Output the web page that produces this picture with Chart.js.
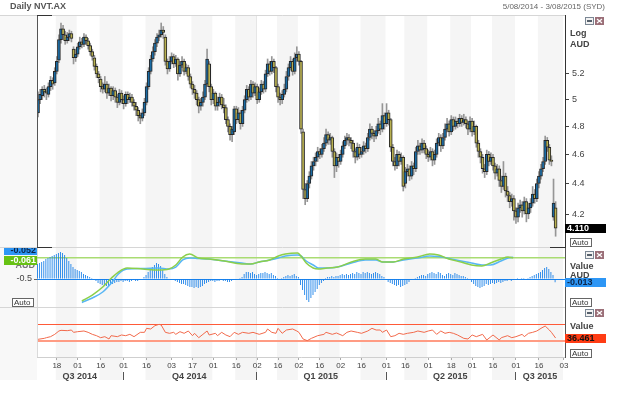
<!DOCTYPE html>
<html>
<head>
<meta charset="utf-8">
<title>Daily NVT.AX</title>
<script src="https://cdn.jsdelivr.net/npm/chart.js@4.4.1/dist/chart.umd.min.js"></script>
<style>
  body { margin: 0; background: #fff; }
  #wrap { position: relative; width: 630px; height: 397px; overflow: hidden; background: #fff; }
  #wrap canvas { position: absolute; left: 0; }
</style>
</head>
<body>
<div id="wrap">
  <canvas id="pricePane" width="630" height="248" style="top:0"></canvas>
  <canvas id="macdPane" width="630" height="60" style="top:248px"></canvas>
  <canvas id="rsiPane" width="630" height="89" style="top:308px"></canvas>
</div>
<script>
var FONT = '"Liberation Sans", Arial, sans-serif';
Chart.defaults.font.family = FONT;

// ---- data ----
var holidays = ['2014-12-25', '2014-12-26', '2015-01-01', '2015-01-26', '2015-04-03', '2015-04-06', '2015-06-08'];
var tickDates = ['2014-08-18', '2014-09-01', '2014-09-16', '2014-10-01', '2014-10-16', '2014-11-03', '2014-11-17', '2014-12-01',
  '2014-12-16', '2015-01-02', '2015-01-16', '2015-02-02', '2015-02-16', '2015-03-02', '2015-03-16', '2015-04-01',
  '2015-04-16', '2015-05-01', '2015-05-18', '2015-06-01', '2015-06-16', '2015-07-01', '2015-07-16', '2015-08-03'];
var quarterNames = ['Q3 2014', 'Q4 2014', 'Q1 2015', 'Q2 2015', 'Q3 2015'];
var quarterStarts = ['2014-08-05', '2014-10-01', '2015-01-02', '2015-04-01', '2015-07-01'];
var priceTicks = [5.2, 5, 4.8, 4.6, 4.4, 4.2];

var openPx = [4.90,5.00,5.03,5.08,5.06,5.04,5.10,5.15,5.13,5.22,
  5.31,5.48,5.57,5.52,5.47,5.50,5.53,5.40,5.33,5.36,
  5.42,5.46,5.44,5.50,5.47,5.43,5.38,5.33,5.26,5.20,
  5.16,5.10,5.08,5.12,5.05,5.09,5.03,5.07,5.02,4.98,
  5.05,5.00,4.97,5.04,5.00,5.02,4.98,4.95,4.92,4.88,
  4.86,4.90,4.98,5.10,5.22,5.32,5.38,5.45,5.50,5.52,
  5.56,5.50,5.30,5.24,5.30,5.34,5.28,5.32,5.20,5.27,
  5.30,5.22,5.25,5.18,5.12,5.08,5.05,5.00,4.95,4.98,
  5.02,5.12,5.28,5.10,5.00,5.05,4.95,4.98,5.02,4.96,
  4.94,4.85,4.80,4.74,4.76,4.93,4.85,4.90,4.82,4.92,
  5.00,5.08,5.02,5.12,5.05,5.10,5.00,5.06,5.12,5.08,
  5.20,5.28,5.22,5.30,5.25,5.10,5.02,5.00,5.04,5.08,
  5.18,5.25,5.30,5.22,5.33,5.36,5.30,4.76,4.36,4.30,
  4.40,4.45,4.52,4.55,4.58,4.62,4.60,4.64,4.68,4.74,
  4.70,4.72,4.62,4.52,4.58,4.55,4.60,4.66,4.70,4.72,
  4.70,4.68,4.62,4.58,4.65,4.60,4.62,4.66,4.64,4.72,
  4.78,4.75,4.73,4.77,4.82,4.78,4.88,4.82,4.90,4.85,
  4.65,4.55,4.52,4.60,4.55,4.58,4.40,4.48,4.50,4.45,
  4.52,4.50,4.62,4.66,4.63,4.68,4.64,4.60,4.58,4.62,
  4.56,4.60,4.68,4.72,4.66,4.72,4.78,4.82,4.76,4.85,
  4.80,4.84,4.82,4.86,4.83,4.85,4.82,4.78,4.84,4.76,
  4.80,4.68,4.62,4.58,4.50,4.48,4.60,4.55,4.58,4.52,
  4.47,4.50,4.42,4.38,4.45,4.35,4.32,4.28,4.30,4.22,
  4.18,4.24,4.26,4.22,4.28,4.20,4.24,4.27,4.33,4.30,
  4.40,4.45,4.50,4.55,4.70,4.65,4.56,4.18,4.24];
var highPx = [5.06,5.08,5.10,5.11,5.09,5.13,5.18,5.17,5.25,5.34,
  5.52,5.62,5.60,5.55,5.54,5.56,5.55,5.42,5.40,5.45,
  5.50,5.49,5.53,5.52,5.49,5.45,5.40,5.35,5.28,5.22,
  5.18,5.13,5.18,5.14,5.12,5.10,5.10,5.09,5.04,5.08,
  5.07,5.03,5.06,5.06,5.05,5.04,5.00,4.98,4.94,4.90,
  4.93,5.01,5.13,5.25,5.35,5.42,5.48,5.53,5.56,5.62,
  5.59,5.52,5.32,5.34,5.37,5.36,5.35,5.33,5.30,5.34,
  5.32,5.28,5.27,5.20,5.14,5.11,5.07,5.02,5.01,5.06,
  5.15,5.40,5.30,5.12,5.08,5.06,5.02,5.05,5.04,5.01,
  4.96,4.87,4.82,4.80,4.95,4.95,4.94,4.92,4.95,5.03,
  5.11,5.10,5.15,5.14,5.13,5.12,5.09,5.15,5.14,5.23,
  5.32,5.30,5.34,5.32,5.26,5.12,5.05,5.07,5.12,5.22,
  5.28,5.34,5.32,5.37,5.42,5.38,5.31,4.78,4.40,4.42,
  4.48,4.55,4.58,4.61,4.65,4.64,4.67,4.72,4.78,4.76,
  4.75,4.73,4.64,4.61,4.60,4.63,4.69,4.73,4.75,4.74,
  4.72,4.70,4.64,4.68,4.67,4.65,4.69,4.68,4.75,4.82,
  4.80,4.77,4.80,4.86,4.84,4.97,4.90,4.97,4.92,4.86,
  4.67,4.58,4.63,4.62,4.61,4.59,4.51,4.53,4.52,4.55,
  4.54,4.65,4.70,4.68,4.71,4.70,4.66,4.63,4.65,4.64,
  4.63,4.71,4.75,4.74,4.75,4.82,4.86,4.84,4.88,4.87,
  4.87,4.86,4.89,4.88,4.89,4.87,4.84,4.87,4.86,4.84,
  4.81,4.70,4.64,4.60,4.53,4.63,4.62,4.61,4.60,4.54,
  4.53,4.52,4.45,4.55,4.47,4.38,4.34,4.33,4.32,4.24,
  4.27,4.29,4.28,4.31,4.30,4.27,4.30,4.38,4.36,4.43,
  4.48,4.53,4.58,4.73,4.72,4.67,4.59,4.43,4.28];
var lowPx = [4.87,4.97,5.00,5.02,5.00,5.02,5.07,5.08,5.11,5.20,
  5.29,5.45,5.48,5.44,5.45,5.47,5.46,5.28,5.30,5.34,
  5.40,5.41,5.42,5.44,5.40,5.35,5.31,5.23,5.17,5.13,
  5.06,5.05,5.06,5.01,5.03,4.99,5.00,4.98,4.94,4.96,
  4.97,4.93,4.95,4.97,4.98,4.95,4.92,4.88,4.84,4.82,
  4.84,4.88,4.96,5.08,5.20,5.30,5.35,5.42,5.47,5.50,
  5.49,5.27,5.20,5.22,5.28,5.25,5.26,5.15,5.18,5.25,
  5.19,5.20,5.15,5.09,5.04,5.01,4.96,4.90,4.92,4.95,
  5.00,5.10,5.06,4.96,4.97,4.92,4.92,4.95,4.93,4.90,
  4.82,4.76,4.70,4.69,4.74,4.82,4.83,4.78,4.80,4.90,
  4.98,4.99,5.00,5.02,5.03,4.97,4.98,5.04,5.05,5.06,
  5.18,5.19,5.20,5.21,5.06,4.98,4.96,4.97,5.02,5.06,
  5.15,5.23,5.19,5.20,5.30,5.27,4.75,4.30,4.26,4.28,
  4.37,4.43,4.49,4.52,4.55,4.57,4.58,4.62,4.66,4.67,
  4.67,4.58,4.44,4.48,4.51,4.53,4.58,4.64,4.67,4.66,
  4.64,4.58,4.54,4.56,4.57,4.58,4.60,4.61,4.62,4.70,
  4.71,4.69,4.71,4.75,4.74,4.76,4.78,4.80,4.81,4.62,
  4.52,4.49,4.50,4.52,4.53,4.35,4.37,4.45,4.42,4.43,
  4.46,4.48,4.60,4.60,4.61,4.61,4.57,4.55,4.56,4.52,
  4.53,4.58,4.66,4.62,4.64,4.70,4.76,4.73,4.74,4.77,
  4.78,4.79,4.80,4.80,4.81,4.79,4.74,4.76,4.73,4.74,
  4.65,4.58,4.54,4.47,4.44,4.46,4.52,4.53,4.49,4.43,
  4.45,4.38,4.34,4.36,4.31,4.28,4.24,4.25,4.16,4.14,
  4.15,4.21,4.18,4.20,4.15,4.17,4.21,4.25,4.27,4.28,
  4.37,4.43,4.48,4.53,4.62,4.53,4.52,4.16,4.06];
var closePx = [5.00,5.04,5.08,5.06,5.05,5.10,5.15,5.12,5.22,5.30,
  5.48,5.57,5.52,5.47,5.50,5.53,5.49,5.33,5.36,5.42,
  5.46,5.44,5.50,5.47,5.43,5.38,5.34,5.26,5.20,5.17,
  5.10,5.08,5.12,5.05,5.09,5.03,5.07,5.02,4.98,5.05,
  5.00,4.97,5.04,5.00,5.02,4.98,4.95,4.92,4.88,4.86,
  4.90,4.98,5.10,5.22,5.32,5.38,5.45,5.50,5.52,5.56,
  5.54,5.30,5.24,5.30,5.34,5.28,5.32,5.20,5.27,5.30,
  5.22,5.25,5.18,5.12,5.08,5.05,5.00,4.95,4.98,5.02,
  5.12,5.32,5.10,5.00,5.05,4.95,4.98,5.02,4.96,4.94,
  4.85,4.80,4.74,4.78,4.93,4.85,4.90,4.82,4.92,5.00,
  5.08,5.02,5.12,5.05,5.10,5.00,5.06,5.12,5.08,5.20,
  5.28,5.22,5.30,5.25,5.10,5.02,5.00,5.04,5.08,5.18,
  5.25,5.30,5.22,5.33,5.36,5.30,4.78,4.36,4.30,4.40,
  4.45,4.52,4.55,4.58,4.62,4.60,4.64,4.68,4.74,4.70,
  4.72,4.62,4.52,4.58,4.55,4.60,4.66,4.70,4.72,4.70,
  4.68,4.62,4.58,4.65,4.60,4.62,4.66,4.64,4.72,4.78,
  4.75,4.73,4.77,4.82,4.78,4.88,4.82,4.90,4.85,4.65,
  4.55,4.52,4.60,4.55,4.58,4.38,4.48,4.50,4.45,4.52,
  4.50,4.62,4.66,4.63,4.68,4.64,4.60,4.58,4.62,4.56,
  4.60,4.68,4.72,4.66,4.72,4.78,4.82,4.76,4.85,4.80,
  4.84,4.82,4.86,4.83,4.85,4.82,4.78,4.84,4.76,4.80,
  4.68,4.62,4.58,4.50,4.48,4.60,4.55,4.58,4.52,4.47,
  4.50,4.42,4.38,4.45,4.35,4.32,4.28,4.30,4.22,4.18,
  4.24,4.26,4.22,4.28,4.20,4.24,4.27,4.33,4.30,4.40,
  4.45,4.50,4.55,4.70,4.65,4.56,4.55,4.27,4.11];

var macdHist = [0.060,0.064,0.068,0.072,0.080,0.084,0.088,0.092,0.096,0.100,0.104,0.108,
  0.104,0.096,0.084,0.072,0.060,0.048,
  0.040,0.036,0.032,0.028,0.020,0.016,0.012,0.008,
  0.004,-0.004,-0.008,-0.016,-0.020,-0.024,-0.028,-0.028,-0.028,-0.024,-0.020,-0.016,-0.012,
  -0.012,-0.008,-0.012,-0.008,-0.008,-0.012,-0.008,-0.004,-0.008,-0.008,-0.004,0,
  0.008,0.016,0.028,0.040,0.048,0.056,0.064,0.060,0.052,0.036,0.020,0.008,
  0,-0.004,-0.004,-0.008,
  -0.012,-0.016,-0.020,-0.020,-0.024,-0.028,-0.032,-0.032,-0.036,-0.032,-0.036,-0.032,-0.028,-0.020,-0.016,
  -0.012,-0.008,-0.008,-0.012,-0.008,-0.008,-0.004,-0.008,-0.008,-0.012,-0.012,-0.008,-0.004,-0.004,0,0.004,0.008,
  0.020,0.028,0.028,0.024,0.028,0.020,0.016,0.020,0.024,0.024,0.028,0.024,0.020,0.024,0.016,0.012,0.004,
  0,0.004,0.008,0.012,
  0.016,0.012,0.016,0.020,0.012,0.008,
  -0.024,-0.044,-0.064,-0.084,-0.092,-0.076,-0.064,-0.052,-0.040,-0.024,-0.016,-0.008,
  0.004,0.008,0.008,0.012,0.008,0.012,0.012,0.016,0.020,0.016,0.020,0.016,0.020,0.024,0.020,
  0.028,0.024,0.020,0.028,0.024,0.028,0.024,0.020,0.024,0.028,0.024,0.020,0.012,0.008,
  -0.004,-0.012,-0.016,-0.020,-0.024,-0.028,-0.024,-0.032,-0.028,-0.024,-0.020,-0.012,-0.004,
  0,0.004,0.008,0.012,
  0.016,0.016,0.012,0.020,0.024,0.028,0.024,0.020,0.028,0.024,0.016,0.012,
  0.020,0.024,0.020,0.016,0.024,0.020,0.016,0.012,0.012,0.008,0.004,0,
  -0.012,-0.020,-0.028,-0.032,-0.036,-0.032,-0.028,-0.020,-0.024,-0.020,-0.016,
  -0.020,-0.016,-0.012,-0.016,-0.012,-0.008,-0.008,-0.004,-0.008,-0.004,
  0,0.004,0,0.004,0.004,0,0.004,
  0.008,0.012,0.016,0.020,0.024,0.028,0.036,0.044,0.048,0.040,0.028,0.016,-0.013];

var lineDays = [0,6,12,17,21,26,35,44,50,54,58,62,67,73,82,92,97,102,108,113,117,124,126,129,133,
  136,141,147,155,163,169,173,179,185,193,200,205,211,218,224,230,235,241,245,248];
var macdLine = [-0.984,-0.891,-0.768,-0.582,-0.397,-0.294,-0.284,-0.273,-0.294,-0.253,-0.108,-0.067,-0.077,
  -0.088,-0.129,-0.170,-0.191,-0.150,-0.108,-0.067,-0.026,-0.005,-0.026,-0.129,-0.211,-0.273,-0.273,-0.253,
  -0.170,-0.108,-0.108,-0.150,-0.150,-0.108,-0.067,-0.026,-0.036,-0.077,-0.129,-0.170,-0.211,-0.211,-0.129,-0.067,-0.052];
var signalLine = [-0.953,-0.830,-0.665,-0.479,-0.356,-0.273,-0.294,-0.314,-0.294,-0.211,-0.047,0.015,-0.067,
  -0.088,-0.129,-0.191,-0.191,-0.150,-0.108,-0.026,0.015,0.036,-0.026,-0.170,-0.273,-0.294,-0.273,-0.253,
  -0.150,-0.088,-0.088,-0.150,-0.150,-0.088,-0.047,0.015,-0.005,-0.088,-0.150,-0.211,-0.232,-0.170,-0.088,-0.047,-0.061];

var rsiDays = [0,3,4,6,8,10,11,14,16,17,19,22,24,26,28,30,32,34,35,38,40,42,44,46,49,51,52,54,56,58,59,61,63,65,
  66,68,70,72,74,75,77,79,81,82,85,86,88,90,92,94,96,98,101,103,106,109,110,112,114,115,117,119,122,124,125,
  127,129,131,134,137,138,141,143,146,148,150,153,155,158,160,162,164,165,167,169,171,173,175,177,180,182,185,
  187,189,191,193,195,197,199,201,204,206,208,210,213,215,217,218,221,222,225,227,229,232,233,235,237,239,241,
  243,245,246,248];
var rsiVals = [33.3,35.7,37.3,39.8,45.5,53.7,55.3,54.5,56.1,50.4,52.0,53.7,50.4,45.5,42.2,37.3,39.8,34.1,42.2,
  39.8,43.9,42.2,45.5,39.8,50.4,50.4,60.2,58.6,66.7,70.0,68.4,50.4,48.0,50.4,45.5,52.0,48.0,53.7,42.2,48.0,
  37.3,45.5,53.7,43.9,48.0,42.2,50.4,43.9,39.8,50.4,45.5,50.4,48.0,50.4,45.5,50.4,58.6,50.4,48.0,60.2,48.0,
  56.1,58.6,53.7,50.4,34.1,30.0,35.7,42.2,45.5,50.4,45.5,48.8,42.2,50.4,53.7,50.4,48.0,53.7,60.2,56.1,56.1,
  50.4,56.1,39.8,42.2,48.0,45.5,48.0,50.4,53.7,50.4,53.7,56.1,45.5,53.7,48.0,50.4,48.0,43.9,35.7,34.1,43.9,
  39.8,45.5,31.6,39.8,43.9,31.6,37.3,42.2,37.3,39.8,45.5,39.8,48.0,50.4,53.7,60.2,65.9,56.1,50.4,36.461];
var rsiLevels = [70, 30];

// ASX trading days, 5 Aug 2014 - 3 Aug 2015
var dates = [];
for (var d = new Date(Date.UTC(2014, 7, 5)); d <= new Date(Date.UTC(2015, 7, 3)); d.setUTCDate(d.getUTCDate() + 1)) {
  var iso = d.toISOString().slice(0, 10);
  if (d.getUTCDay() % 6 !== 0 && holidays.indexOf(iso) < 0) dates.push(iso);
}
var N = dates.length;
var last = closePx.length - 1;

function pairs(a, b) { return a.map(function (v, i) { return [v, b[i]]; }); }
function pts(xs, ys) { return xs.map(function (x, i) { return { x: x, y: ys[i] }; }); }
// keep tick labels from eating into the pane height
function noPad(s) { s.paddingTop = 0; s.paddingBottom = 0; }

function txt(ctx, s, x, y, font, color, align) {
  ctx.font = font; ctx.fillStyle = color; ctx.textAlign = align || 'left'; ctx.textBaseline = 'middle';
  ctx.fillText(s, x, y);
}
function hline(ctx, y, x0, x1, color, w) {
  ctx.strokeStyle = color; ctx.lineWidth = w || 1;
  ctx.beginPath(); ctx.moveTo(x0, y); ctx.lineTo(x1, y); ctx.stroke();
}
function vline(ctx, x, y0, y1, color) {
  ctx.strokeStyle = color; ctx.lineWidth = 1;
  ctx.beginPath(); ctx.moveTo(x, y0); ctx.lineTo(x, y1); ctx.stroke();
}
function flag(ctx, s, y, bg, fg, x, w, align) {
  var top = Math.round(y - 4.5);
  ctx.fillStyle = bg; ctx.fillRect(x, top, w, 9);
  txt(ctx, s, align === 'right' ? x + w - 1 : x + 2, top + 5, 'bold 9px ' + FONT, fg, align);
}
function autoBox(ctx, x, y) {
  ctx.fillStyle = '#fff'; ctx.fillRect(x, y, 22, 9);
  ctx.strokeStyle = '#666'; ctx.lineWidth = 1; ctx.strokeRect(x + 0.5, y + 0.5, 21, 8);
  txt(ctx, 'Auto', x + 2, y + 5, '8px ' + FONT, '#333');
}
function icons(ctx, x, y) {
  ctx.fillStyle = '#7b8794'; ctx.fillRect(x, y, 9, 8);
  ctx.fillStyle = '#f2f2f2'; ctx.fillRect(x + 1, y + 1, 7, 6);
  ctx.fillStyle = '#56606b'; ctx.fillRect(x + 2, y + 3, 5, 2);
  ctx.fillStyle = '#9b6f78'; ctx.fillRect(x + 10, y, 9, 8);
  ctx.strokeStyle = '#fff'; ctx.lineWidth = 1.2;
  ctx.beginPath();
  ctx.moveTo(x + 12, y + 2); ctx.lineTo(x + 17, y + 6);
  ctx.moveTo(x + 17, y + 2); ctx.lineTo(x + 12, y + 6);
  ctx.stroke();
}

// half-month shading, shared by all three panes
var frame = {
  id: 'frame',
  beforeDraw: function (chart, args, opts) {
    var ctx = chart.ctx, a = chart.chartArea, xs = chart.scales.x;
    var half = (a.right - a.left) / N / 2;
    var bottom = a.bottom + (opts.extra || 0);
    ctx.save();
    ctx.fillStyle = '#f8f8f8';
    ctx.fillRect(0, a.top, a.left, bottom - a.top);
    ctx.fillStyle = '#f5f5f5';
    for (var k = 0; k + 1 < tickDates.length; k += 2) {
      var x0 = xs.getPixelForValue(dates.indexOf(tickDates[k])) - half;
      var x1 = xs.getPixelForValue(dates.indexOf(tickDates[k + 1])) - half;
      ctx.fillRect(x0, a.top, x1 - x0, bottom - a.top);
    }
    var xy = Math.round(xs.getPixelForValue(dates.indexOf('2015-01-02')) - half);
    ctx.fillStyle = '#e6e6e6';
    ctx.fillRect(xy, a.top, 1, bottom - a.top);
    ctx.restore();
  }
};

var pricePlugin = {
  id: 'priceDeco',
  afterDraw: function (chart) {
    var ctx = chart.ctx, a = chart.chartArea, ys = chart.scales.y;
    ctx.save();
    hline(ctx, a.top + 0.5, 0, a.right, '#d6d6d6');
    hline(ctx, a.bottom + 0.5, 0, a.right, '#d6d6d6');
    vline(ctx, a.left + 0.5, a.top, a.bottom + 1, '#555');
    hline(ctx, a.top + 0.5, a.left, a.left + 15, '#333');
    hline(ctx, a.bottom + 0.5, a.left, a.left + 15, '#333');
    hline(ctx, a.bottom + 0.5, a.right - 15, a.right, '#333');
    txt(ctx, 'Daily NVT.AX', 10, 7, 'bold 9px ' + FONT, '#555');
    txt(ctx, '5/08/2014 - 3/08/2015 (SYD)', 605, 7, '8px ' + FONT, '#666', 'right');
    txt(ctx, 'Log', 570, 34, 'bold 9px ' + FONT, '#444');
    txt(ctx, 'AUD', 570, 45, 'bold 9px ' + FONT, '#444');
    icons(ctx, 585, 17);
    flag(ctx, closePx[last].toFixed(3), ys.getPixelForValue(closePx[last]), '#000', '#fff', 565, 41);
    autoBox(ctx, 570, 238);
    ctx.restore();
  }
};

new Chart(document.getElementById('pricePane'), {
  type: 'bar',
  data: {
    labels: dates,
    datasets: [
      {
        label: 'range', data: pairs(lowPx, highPx), backgroundColor: '#969696',
        barThickness: 1, grouped: false, order: 2
      },
      {
        label: 'NVT.AX', data: pairs(openPx, closePx),
        backgroundColor: closePx.map(function (c, i) { return c >= openPx[i] ? '#1a6ba4' : '#b8b050'; }),
        borderColor: '#262626', borderWidth: 1, borderSkipped: false,
        barThickness: 3, grouped: false, order: 1
      }
    ]
  },
  options: {
    responsive: false, animation: false, events: [],
    layout: { padding: { left: 37, top: 15, right: 0, bottom: 1 } },
    plugins: { legend: { display: false }, tooltip: { enabled: false } },
    scales: {
      x: { display: false, offset: true },
      y: {
        type: 'logarithmic', position: 'right', min: 3.994, max: 5.689,
        afterFit: function (s) { s.width = 65; noPad(s); },
        afterBuildTicks: function (s) { s.ticks = priceTicks.map(function (v) { return { value: v }; }); },
        ticks: { callback: function (v) { return String(v); }, color: '#444', font: { size: 9 }, padding: 3 },
        grid: { drawOnChartArea: false, tickLength: 4, color: '#444' },
        border: { color: '#333' }
      }
    }
  },
  plugins: [frame, pricePlugin]
});

var macdPlugin = {
  id: 'macdDeco',
  beforeDatasetsDraw: function (chart) {
    var ctx = chart.ctx, a = chart.chartArea;
    ctx.save();
    hline(ctx, Math.round(chart.scales.yr.getPixelForValue(0)) + 0.5, a.left, a.right, '#1a82ec');
    hline(ctx, chart.scales.yl.getPixelForValue(signalLine[signalLine.length - 1]), a.left, a.right, '#a9dc72', 1.5);
    ctx.restore();
  },
  afterDraw: function (chart) {
    var ctx = chart.ctx, a = chart.chartArea;
    ctx.save();
    hline(ctx, a.bottom + 0.5, 0, a.right, '#d6d6d6');
    flag(ctx, macdLine[macdLine.length - 1].toFixed(3), 2.5, '#2d96f5', '#0b2447', 4, 33, 'right');
    txt(ctx, 'AUD', 35, 17.5, 'bold 9px ' + FONT, '#777', 'right');
    flag(ctx, signalLine[signalLine.length - 1].toFixed(3), 12, '#67c213', '#fff', 4, 33, 'right');
    autoBox(ctx, 12, 50);
    txt(ctx, 'Value', 570, 18.5, 'bold 9px ' + FONT, '#444');
    txt(ctx, 'AUD', 570, 27.5, 'bold 9px ' + FONT, '#444');
    flag(ctx, macdHist[macdHist.length - 1].toFixed(3), chart.scales.yr.getPixelForValue(macdHist[macdHist.length - 1]), '#2d96f5', '#0b2447', 565, 41);
    autoBox(ctx, 570, 50);
    icons(ctx, 585, 3);
    ctx.restore();
  }
};

new Chart(document.getElementById('macdPane'), {
  type: 'bar',
  data: {
    labels: dates,
    datasets: [
      {
        type: 'bar', label: 'hist', data: macdHist, xAxisID: 'x', yAxisID: 'yr',
        backgroundColor: '#0f7be8', barPercentage: 0.8, categoryPercentage: 1, order: 3
      },
      {
        type: 'line', label: 'MACD', data: pts(lineDays, macdLine), xAxisID: 'xl', yAxisID: 'yl',
        borderColor: '#58b6f4', borderWidth: 1.5, pointRadius: 0, tension: 0.4, cubicInterpolationMode: 'monotone', order: 2
      },
      {
        type: 'line', label: 'Signal', data: pts(lineDays, signalLine), xAxisID: 'xl', yAxisID: 'yl',
        borderColor: '#8bcf4a', borderWidth: 1.5, pointRadius: 0, tension: 0.4, cubicInterpolationMode: 'monotone', order: 1
      }
    ]
  },
  options: {
    responsive: false, animation: false, events: [],
    layout: { padding: { top: 0, bottom: 1 } },
    plugins: { legend: { display: false }, tooltip: { enabled: false } },
    scales: {
      x: { display: false, offset: true },
      xl: { type: 'linear', display: false, min: -0.5, max: N - 0.5 },
      yl: {
        position: 'left', min: -1.077, max: 0.139,
        afterFit: function (s) { s.width = 37; noPad(s); },
        afterBuildTicks: function (s) { s.ticks = [{ value: -0.5 }]; },
        ticks: { color: '#444', font: { size: 9 }, padding: 2, callback: function (v) { return String(v); } },
        grid: { drawOnChartArea: false, tickLength: 3, color: '#666' },
        border: { color: '#dadada' }
      },
      yr: {
        position: 'right', min: -0.112, max: 0.124,
        afterFit: function (s) { s.width = 65; noPad(s); },
        ticks: { display: false },
        grid: { drawOnChartArea: false, drawTicks: false },
        border: { color: '#555' }
      }
    }
  },
  plugins: [frame, macdPlugin]
});

var rsiPlugin = {
  id: 'rsiDeco',
  beforeDatasetsDraw: function (chart) {
    var ctx = chart.ctx, a = chart.chartArea, ys = chart.scales.y;
    ctx.save();
    hline(ctx, Math.round(ys.getPixelForValue(rsiLevels[0])) + 0.5, a.left, a.right, '#ff5a38', 1);
    hline(ctx, Math.round(ys.getPixelForValue(rsiLevels[1])), a.left, a.right, '#ff9c84', 2);
    ctx.restore();
  },
  afterDraw: function (chart) {
    var ctx = chart.ctx, a = chart.chartArea, xs = chart.scales.x, ys = chart.scales.y;
    var half = (a.right - a.left) / N / 2;
    ctx.save();
    vline(ctx, a.left + 0.5, a.top, a.bottom, '#dadada');
    for (var k = 0; k < quarterStarts.length; k++) {
      var x0 = xs.getPixelForValue(dates.indexOf(quarterStarts[k])) - half;
      var x1 = k + 1 < quarterStarts.length ? xs.getPixelForValue(dates.indexOf(quarterStarts[k + 1])) - half : a.right;
      if (k > 0) vline(ctx, Math.round(x0) + 0.5, a.bottom + 15, a.bottom + 23, '#555');
      txt(ctx, quarterNames[k], (x0 + x1) / 2, a.bottom + 19.5, 'bold 9px ' + FONT, '#444', 'center');
    }
    icons(ctx, 585, 1);
    txt(ctx, 'Value', 570, 18.5, 'bold 9px ' + FONT, '#444');
    flag(ctx, rsiVals[rsiVals.length - 1].toFixed(3), ys.getPixelForValue(rsiVals[rsiVals.length - 1]), '#ff3c14', '#111', 565, 41);
    autoBox(ctx, 570, 41);
    ctx.restore();
  }
};

new Chart(document.getElementById('rsiPane'), {
  type: 'line',
  data: {
    labels: dates,
    datasets: [{
      label: 'RSI', data: pts(rsiDays, rsiVals), xAxisID: 'xl', yAxisID: 'y',
      borderColor: '#f26a4c', borderWidth: 1, pointRadius: 0, tension: 0
    }]
  },
  options: {
    responsive: false, animation: false, events: [],
    layout: { padding: { left: 37, top: 0, right: 0, bottom: 0 } },
    plugins: { legend: { display: false }, tooltip: { enabled: false }, frame: { extra: 23 } },
    scales: {
      x: {
        type: 'category', offset: true, position: 'bottom',
        afterFit: function (s) { s.height = 40; },
        afterBuildTicks: function (s) { s.ticks = tickDates.map(function (t) { return { value: dates.indexOf(t) }; }); },
        ticks: {
          autoSkip: false, maxRotation: 0, padding: 1, color: '#444', font: { size: 8 },
          callback: function (v) { return dates[v].slice(8); }
        },
        grid: { drawOnChartArea: false, offset: false, tickLength: 3, color: '#aaa' },
        border: { color: '#cfcfcf' }
      },
      xl: { type: 'linear', display: false, min: -0.5, max: N - 0.5 },
      y: {
        position: 'right', min: -10, max: 110,
        afterFit: function (s) { s.width = 65; noPad(s); },
        ticks: { display: false },
        grid: { drawOnChartArea: false, drawTicks: false },
        border: { color: '#555' }
      }
    }
  },
  plugins: [frame, rsiPlugin]
});
</script>
</body>
</html>
